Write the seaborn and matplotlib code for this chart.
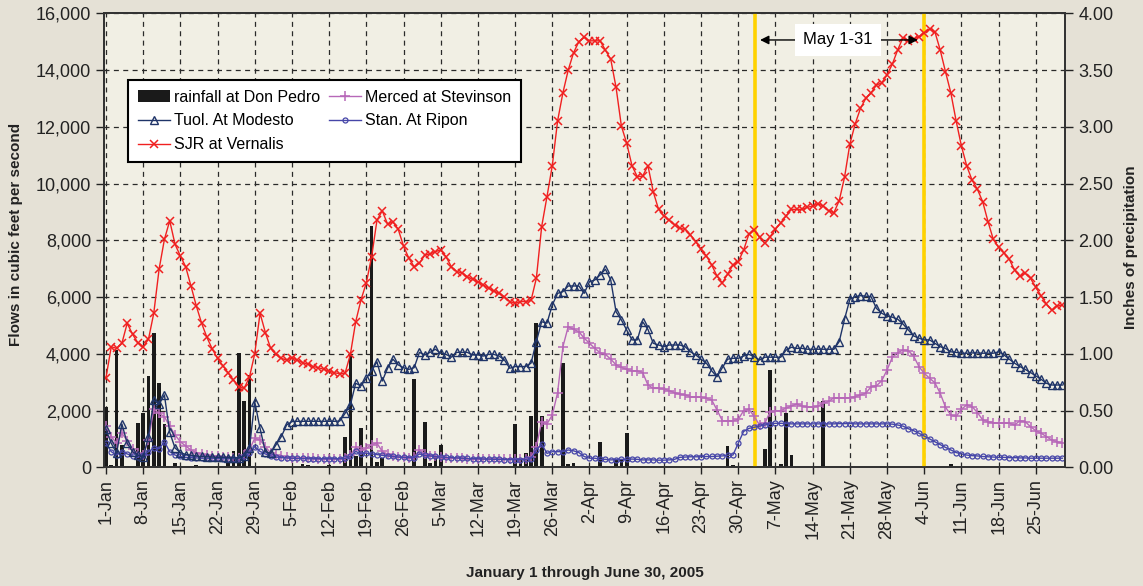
import numpy as np
import pandas as pd
import matplotlib
matplotlib.use('Agg')
import matplotlib.pyplot as plt
import seaborn as sns
from matplotlib.ticker import FuncFormatter, MultipleLocator

plt.rcParams['font.family'] = ['Liberation Sans', 'DejaVu Sans']

# daily values, Jan 1 .. Jun 30 2005 (cfs)
sjr = [3150, 4250, 4190, 4370, 5075, 4690, 4390, 4250, 4510, 5430,
       6980, 8030, 8690, 7860, 7450, 7070, 6390, 5690, 5080, 4580,
       4170, 3840, 3580, 3330, 3080, 2840, 2780, 3170, 4000, 5430,
       4750, 4190, 3980, 3840, 3780, 3860, 3780, 3690, 3630, 3550,
       3510, 3450, 3390, 3330, 3300, 3310, 3980, 5130, 5900, 6500,
       7420, 8700, 9040, 8570, 8650, 8390, 7800, 7370, 7070, 7190,
       7480, 7520, 7600, 7660, 7420, 7070, 6900, 6850, 6720, 6620,
       6540, 6430, 6310, 6210, 6130, 6010, 5840, 5780, 5840, 5840,
       5880, 6660, 8480, 9540, 10630, 12210, 13200, 14000, 14610, 15000,
       15150, 15030, 15030, 15030, 14700, 14380, 13390, 12030, 11420, 10630,
       10240, 10260, 10630, 9710, 9090, 8860, 8710, 8540, 8420, 8390,
       8190, 7950, 7680, 7450, 7130, 6740, 6500, 6810, 7130, 7250,
       7650, 8220, 8360, 8100, 7890, 8130, 8390, 8620, 8860, 9090,
       9090, 9090, 9160, 9210, 9280, 9210, 9040, 8970, 9400, 10220,
       11390, 12100, 12650, 13000, 13200, 13470, 13550, 13830, 14210, 14710,
       15140, 15040, 15080, 15180, 15320, 15440, 15350, 14710, 13940, 13200,
       12210, 11320, 10620, 10120, 9800, 9360, 8660, 8030, 7750, 7560,
       7330, 6950, 6740, 6840, 6660, 6340, 6040, 5750, 5540, 5680, 5720]

tuol = [1340, 845, 500, 1530, 845, 550, 430, 350, 1080, 2370,
        2220, 2550, 1230, 680, 520, 450, 420, 400, 380, 370,
        360, 350, 350, 340, 340, 330, 400, 670, 2310, 1370,
        550, 490, 790, 1080, 1490, 1610, 1620, 1620, 1620, 1620,
        1620, 1620, 1620, 1620, 1630, 1900, 2200, 2960, 2870, 3140,
        3400, 3720, 3040, 3490, 3810, 3610, 3510, 3450, 3510, 4050,
        3960, 4050, 4160, 4020, 3980, 3880, 4050, 4050, 4050, 3960,
        3960, 3920, 3980, 3980, 3920, 3780, 3490, 3550, 3550, 3550,
        3670, 4430, 5130, 5080, 5720, 6130, 6190, 6390, 6390, 6390,
        6130, 6540, 6600, 6780, 6980, 6600, 5480, 5190, 4840, 4490,
        4490, 5130, 4860, 4370, 4310, 4250, 4310, 4310, 4310, 4250,
        4070, 3960, 3810, 3670, 3400, 3190, 3510, 3810, 3840, 3840,
        3920, 3980, 3900, 3780, 3880, 3880, 3880, 3880, 4130, 4230,
        4190, 4190, 4160, 4160, 4160, 4160, 4160, 4160, 4430, 5220,
        5920, 6010, 6050, 6030, 6010, 5600, 5430, 5330, 5290, 5220,
        5050, 4840, 4630, 4550, 4490, 4490, 4370, 4250, 4190, 4070,
        4050, 4020, 4020, 4030, 4030, 4020, 4020, 4020, 4070, 3960,
        3810, 3670, 3550, 3450, 3340, 3220, 3100, 2960, 2900, 2900, 2900]

merced = [1455, 1080, 850, 1200, 940, 630, 490, 430, 960, 2040,
          1900, 1780, 1450, 1140, 900, 750, 610, 515, 470, 430,
          400, 380, 370, 350, 340, 330, 420, 620, 1020, 960,
          730, 500, 420, 380, 360, 340, 330, 320, 310, 310,
          300, 300, 300, 300, 300, 320, 420, 700, 600, 670,
          800, 850, 560, 460, 400, 350, 350, 330, 350, 610,
          480, 400, 380, 360, 340, 330, 320, 310, 300, 300,
          300, 290, 290, 290, 290, 280, 280, 280, 280, 300,
          350, 730, 1610, 1530, 1840, 2630, 4250, 4960, 4860, 4780,
          4550, 4370, 4190, 4040, 3980, 3810, 3610, 3520, 3450, 3400,
          3400, 3340, 2900, 2780, 2780, 2760, 2700, 2630, 2580, 2550,
          2490, 2470, 2470, 2430, 2370, 2020, 1640, 1640, 1640, 1690,
          1990, 2050, 1790, 1490, 1550, 1960, 1980, 2000, 2080, 2160,
          2230, 2160, 2120, 2120, 2160, 2260, 2320, 2450, 2450, 2450,
          2450, 2490, 2550, 2610, 2840, 2870, 3050, 3430, 3880, 4040,
          4130, 4110, 3920, 3550, 3310, 3140, 2980, 2610, 2120, 1840,
          1790, 2040, 2200, 2140, 1930, 1670, 1610, 1570, 1550, 1550,
          1550, 1490, 1640, 1610, 1430, 1290, 1200, 1080, 960, 900, 850]

stan = [845, 550, 430, 550, 470, 400, 350, 430, 550, 670,
        650, 900, 550, 430, 380, 350, 340, 330, 320, 320,
        310, 310, 300, 300, 300, 310, 380, 500, 730, 560,
        470, 400, 360, 340, 330, 320, 310, 310, 300, 300,
        300, 300, 300, 300, 300, 310, 380, 560, 470, 500,
        470, 450, 420, 400, 380, 360, 350, 340, 340, 470,
        420, 400, 380, 360, 350, 340, 330, 320, 310, 300,
        300, 290, 290, 280, 280, 270, 270, 270, 270, 280,
        300, 610, 820, 490, 550, 550, 550, 610, 580, 520,
        380, 320, 320, 280, 280, 260, 270, 280, 280, 290,
        280, 260, 260, 260, 250, 250, 260, 280, 350, 360,
        370, 370, 370, 380, 380, 390, 400, 420, 430, 850,
        1260, 1370, 1410, 1450, 1490, 1520, 1550, 1550, 1540, 1530,
        1530, 1530, 1530, 1530, 1530, 1530, 1530, 1530, 1540, 1540,
        1540, 1530, 1530, 1530, 1530, 1530, 1530, 1530, 1520, 1490,
        1450, 1360, 1290, 1200, 1100, 1000, 900, 800, 700, 610,
        520, 470, 430, 410, 400, 380, 370, 360, 350, 350,
        340, 340, 330, 330, 320, 320, 320, 320, 320, 320, 320]

# inches of rain at Don Pedro
rain = [0.53, 0.02, 1.03, 0.20, 0.01, 0, 0.39, 0.48, 0.80, 1.18,
        0.74, 0.38, 0, 0.04, 0, 0, 0, 0.02, 0, 0,
        0, 0, 0, 0.05, 0.14, 1.01, 0.58, 0.81, 0, 0,
        0, 0, 0, 0, 0, 0, 0, 0.03, 0.02, 0,
        0, 0, 0.02, 0, 0, 0.27, 1.00, 0.10, 0.35, 0,
        2.13, 0.05, 0.08, 0, 0, 0, 0, 0, 0.78, 0,
        0.40, 0.04, 0.10, 0.20, 0, 0, 0, 0, 0, 0,
        0, 0, 0, 0, 0, 0, 0, 0.38, 0.08, 0.13,
        0.45, 1.27, 0.45, 0, 0, 0, 0.92, 0.03, 0.04, 0,
        0, 0, 0, 0.22, 0, 0, 0.06, 0.07, 0.30, 0,
        0, 0, 0, 0, 0, 0, 0, 0, 0, 0,
        0, 0, 0, 0, 0, 0, 0, 0.19, 0.02, 0,
        0, 0, 0, 0, 0.16, 0.86, 0, 0.03, 0.48, 0.11,
        0, 0, 0, 0, 0, 0.58, 0, 0, 0, 0,
        0, 0, 0, 0, 0, 0, 0, 0, 0, 0,
        0, 0, 0, 0, 0, 0, 0, 0, 0, 0.03,
        0, 0, 0, 0, 0, 0, 0, 0, 0, 0,
        0, 0, 0, 0, 0, 0, 0, 0, 0, 0, 0]

tick_labels = ['1-Jan', '8-Jan', '15-Jan', '22-Jan', '29-Jan', '5-Feb', '12-Feb',
               '19-Feb', '26-Feb', '5-Mar', '12-Mar', '19-Mar', '26-Mar', '2-Apr',
               '9-Apr', '16-Apr', '23-Apr', '30-Apr', '7-May', '14-May', '21-May',
               '28-May', '4-Jun', '11-Jun', '18-Jun', '25-Jun']

days = np.arange(len(sjr))
df = pd.DataFrame({'day': days, 'sjr': sjr, 'tuol': tuol, 'merced': merced,
                   'stan': stan, 'rain': rain})

fig = plt.figure(figsize=(11.43, 5.86), dpi=100, facecolor='#E5E1D6')
ax_rain = fig.add_axes([0.0913, 0.2026, 0.8405, 0.7747])
ax_rain.set_facecolor('#F1EFE4')
ax = ax_rain.twinx()

# rainfall bars on the precipitation (right) scale, behind the flows
ax_rain.bar(df['day'], df['rain'], width=0.7, color='#1A1A1A',
            label='rainfall at Don Pedro', zorder=2)
ax_rain.yaxis.tick_right()
ax_rain.yaxis.set_label_position('right')
ax.yaxis.tick_left()
ax.yaxis.set_label_position('left')

grid_kw = dict(color='#2A2A2A', linestyle=(0, (4, 3.5)), linewidth=0.9)
ax_rain.grid(True, **grid_kw)
ax_rain.set_axisbelow(True)

# yellow markers around the month of May
for xv in [122.2, 154.0]:
    ax.axvline(xv, color='#FFD200', lw=2.6, zorder=1.5)

sns.lineplot(data=df, x='day', y='merced', ax=ax, color='#B768B8', lw=1,
             marker='+', ms=7, mew=1.1, mec='#B768B8', label='Merced at Stevinson', legend=False)
sns.lineplot(data=df, x='day', y='stan', ax=ax, color='#4646A8', lw=1,
             marker='o', ms=3.6, mew=0.9, mec='#4646A8', mfc='none', label='Stan. At Ripon', legend=False)
sns.lineplot(data=df, x='day', y='tuol', ax=ax, color='#1F3468', lw=1,
             marker='^', ms=6.3, mew=1, mec='#1F3468', mfc='none', label='Tuol. At Modesto', legend=False)
sns.lineplot(data=df, x='day', y='sjr', ax=ax, color='#F02020', lw=1,
             marker='x', ms=6, mew=1.1, mec='#F02020', label='SJR at Vernalis', legend=False)

ax.set_ylim(0, 16000)
ax_rain.set_ylim(0, 4)
ax_rain.set_xlim(-0.3, 180.5)
ax.yaxis.set_major_locator(MultipleLocator(2000))
ax_rain.yaxis.set_major_locator(MultipleLocator(0.5))
ax.yaxis.set_major_formatter(FuncFormatter(lambda v, p: f'{int(v):,}'))
ax_rain.yaxis.set_major_formatter(FuncFormatter(lambda v, p: f'{v:.2f}'))
ax_rain.set_xticks(np.arange(0, len(days), 7))
ax_rain.set_xticklabels(tick_labels, rotation=90)
ax.set_xlabel('')
ax.set_ylabel('')
ax_rain.set_xlabel('')

ax.tick_params(axis='y', labelsize=13, length=6, width=1, direction='out', colors='#222222')
ax_rain.tick_params(axis='y', labelsize=13, length=6, width=1, direction='out', colors='#222222')
ax_rain.tick_params(axis='x', labelsize=13, length=5, width=1, direction='out', colors='#222222')
for a in (ax, ax_rain):
    for s in a.spines.values():
        s.set_color('#333333')
        s.set_linewidth(1.3)

# May 1-31 annotation
yy = 15060
for xt in [123.1, 152.8]:
    ax.annotate('', xy=(xt, yy), xytext=(137.8, yy),
                arrowprops=dict(arrowstyle='-|>', color='black', lw=1,
                                shrinkA=0, shrinkB=0, mutation_scale=13), zorder=5)
ax.text(137.8, yy, 'May 1-31', ha='center', va='center', fontsize=12, zorder=6,
        bbox=dict(boxstyle='square,pad=0.5', facecolor='white', edgecolor='none'))

# legend, row-wise order as in the original
h_line, l_line = ax.get_legend_handles_labels()
h_bar, l_bar = ax_rain.get_legend_handles_labels()
hd = dict(zip(l_line + l_bar, h_line + h_bar))
order = ['rainfall at Don Pedro', 'Tuol. At Modesto', 'SJR at Vernalis',
         'Merced at Stevinson', 'Stan. At Ripon']
leg = ax.legend([hd[k] for k in order], order, loc='upper left',
                bbox_to_anchor=(0.0247, 0.853), borderaxespad=0, ncol=2, fontsize=11.5,
                frameon=True, fancybox=False, framealpha=1, edgecolor='black',
                handlelength=2.0, columnspacing=0.6, labelspacing=0.55,
                borderpad=0.6, handletextpad=0.25)
leg.get_frame().set_linewidth(1.5)
leg.set_zorder(10)

fig.text(0.014, 0.6, 'Flows in cubic feet per second', rotation=90,
         fontsize=11, fontweight='bold', ha='center', va='center', color='#222222')
fig.text(0.9895, 0.578, 'Inches of precipitation', rotation=90,
         fontsize=11, fontweight='bold', ha='center', va='center', color='#222222')
fig.text(0.512, 0.022, 'January 1 through June 30, 2005',
         fontsize=11, fontweight='bold', ha='center', va='center', color='#222222')

fig.savefig('out.png', dpi=100, facecolor=fig.get_facecolor())
